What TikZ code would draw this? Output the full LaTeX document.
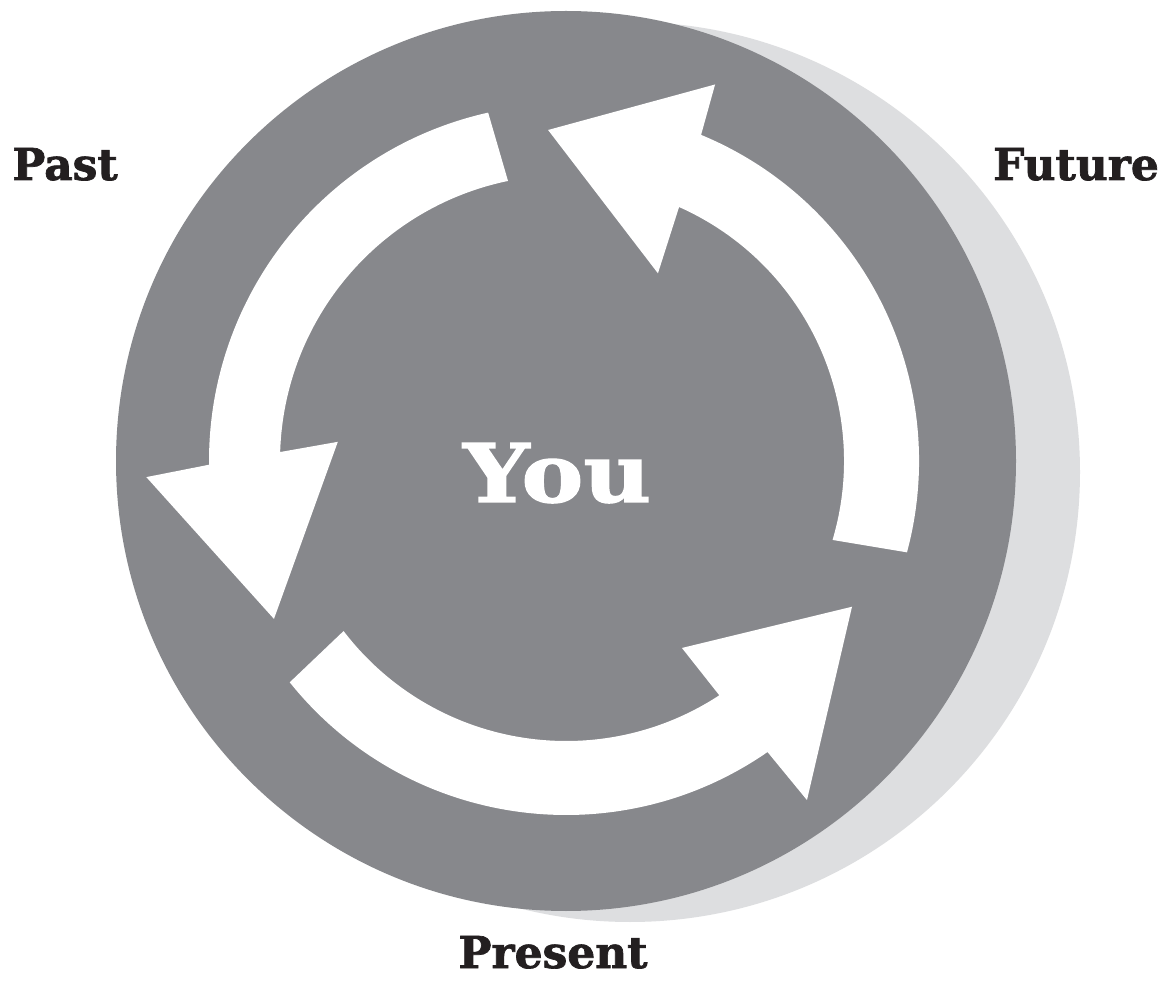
\documentclass[tikz,border=0pt]{standalone}
\usepackage{fontspec}
\setmainfont{DejaVu Serif}
\newfontfamily\heavy{DejaVu Serif Bold}[FakeBold=1.6]
\definecolor{disc}{RGB}{135,136,140}
\definecolor{shadowgrey}{RGB}{221,222,224}
\definecolor{ink}{RGB}{35,31,32}
\begin{document}
\begin{tikzpicture}[x=0.02cm,y=0.02cm,
  labeltext/.style={font=\fontsize{25}{30}\selectfont\heavy, text=ink, anchor=base, inner sep=0pt},
  centretext/.style={font=\fontsize{46}{52}\selectfont\heavy, text=white, anchor=base, inner sep=0pt, xscale=1.15},
  arrowshape/.style={fill=white, draw=none}]
\useasboundingbox (0,0) rectangle (1170,-989);
\fill[white] (0,0) rectangle (1170,-989);
% shadow and disc
\fill[shadowgrey] (630,-472) circle[radius=450];
\fill[disc] (566,-461) circle[radius=450];
\begin{scope}[shift={(566,-461)}]
  % Past arrow (left)
  \fill[arrowshape] (102.6:357) arc[start angle=102.6, end angle=180.6, radius=357]
    -- (182.2:420) -- (208.4:332) -- (175.2:229) -- (178.2:286)
    arc[start angle=178.2, end angle=101.7, radius=286] -- cycle;
  % Future arrow (right)
  \fill[arrowshape] (-15:353) arc[start angle=-15, end angle=67.5, radius=353]
    -- (68.4:405) -- (93.1:331.5) -- (63.9:209) -- (66:278)
    arc[start angle=66, end angle=-16.5, radius=278] -- cycle;
  % Present arrow (bottom)
  \fill[arrowshape] (218.7:354) arc[start angle=218.7, end angle=304.7, radius=354]
    -- (305.4:416) -- (333:321) -- (301.8:220) -- (303.2:280)
    arc[start angle=303.2, end angle=217.4, radius=280] -- cycle;
\end{scope}
% labels
\node[labeltext] (past) at (65,-180) {Past};
\node[labeltext] (future) at (1076,-180) {Future};
\node[labeltext] (present) at (553,-968) {Present};
\node[centretext] (you) at (557,-502) {You};
\end{tikzpicture}
\end{document}
